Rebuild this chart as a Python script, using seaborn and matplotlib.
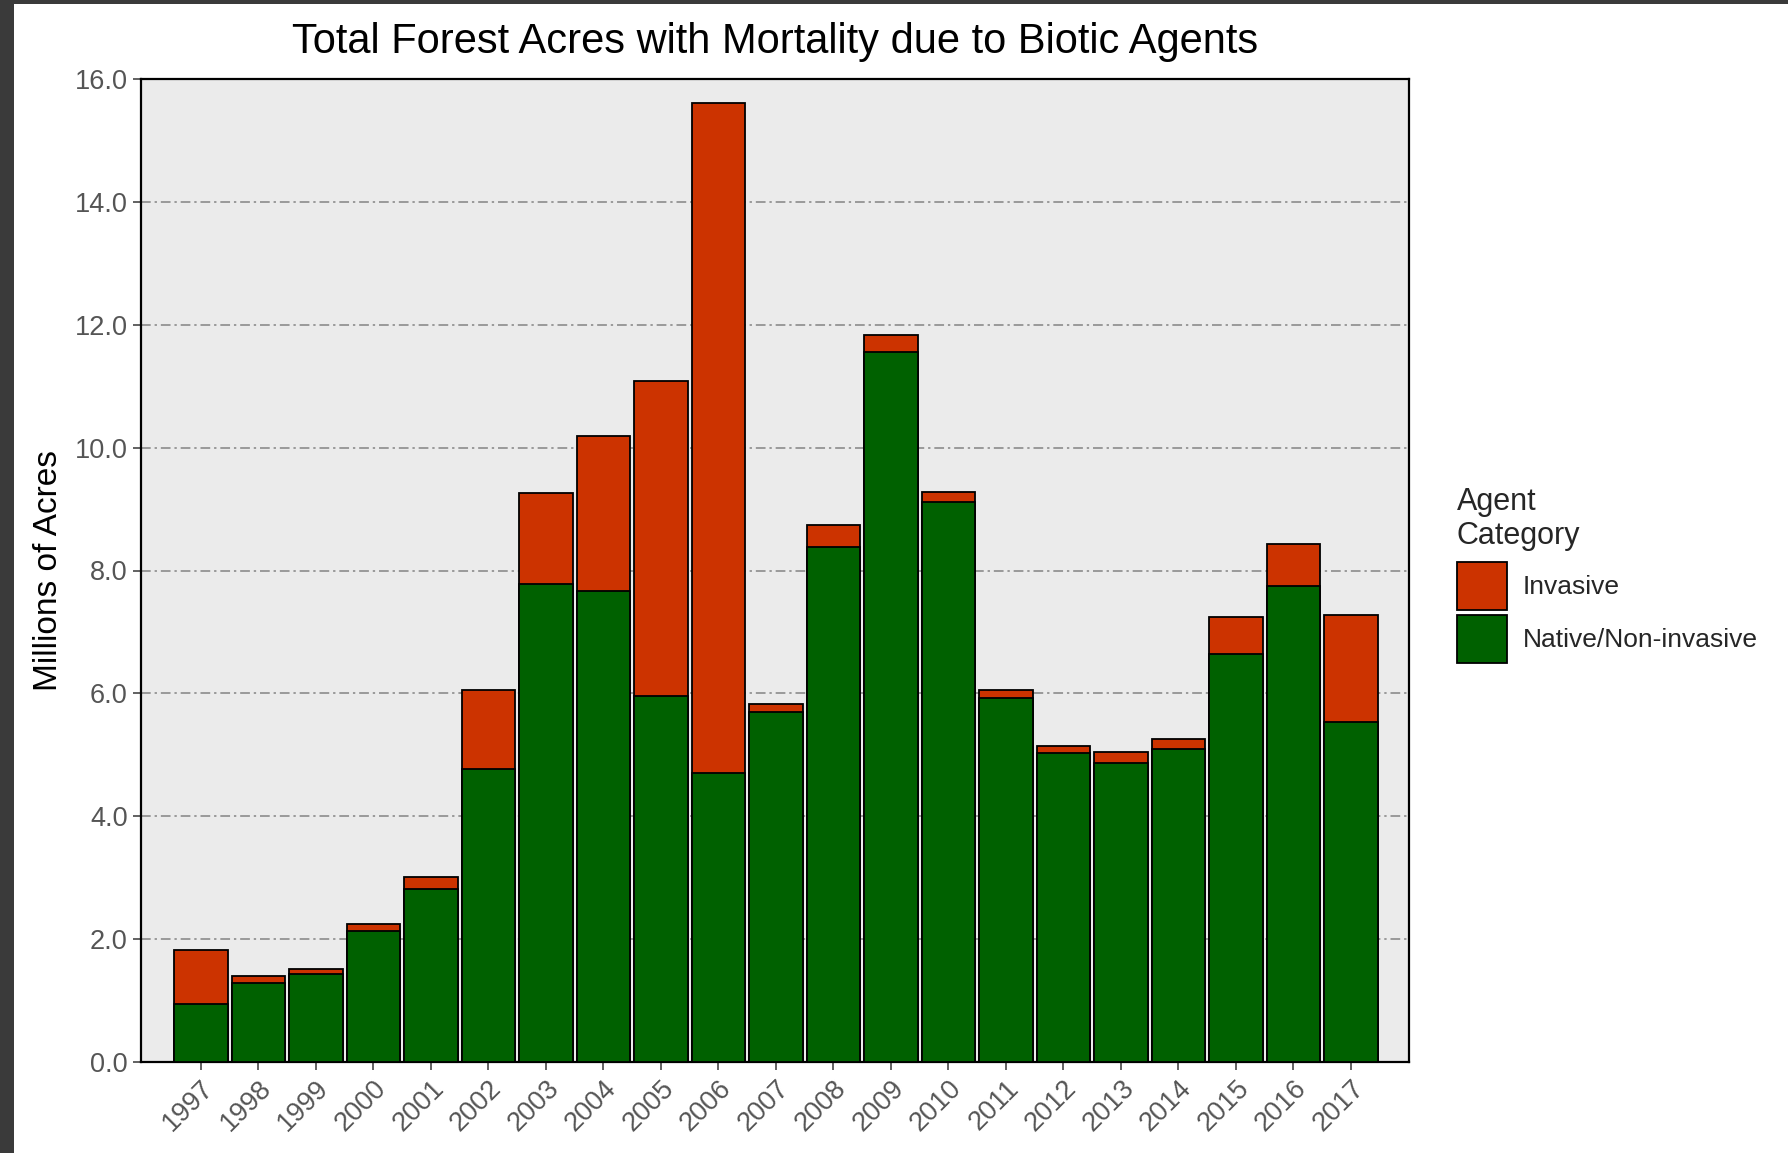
import matplotlib
matplotlib.use("Agg")
import matplotlib.pyplot as plt
from matplotlib.patches import Patch, Rectangle
import pandas as pd
import seaborn as sns

# data (millions of acres)
years = [str(y) for y in range(1997, 2018)]
native = [0.95, 1.28, 1.43, 2.13, 2.82, 4.77, 7.78, 7.67, 5.96, 4.70, 5.70,
          8.39, 11.56, 9.11, 5.92, 5.03, 4.86, 5.10, 6.64, 7.74, 5.53]
invasive = [0.87, 0.12, 0.09, 0.12, 0.19, 1.28, 1.48, 2.52, 5.12, 10.91, 0.13,
            0.35, 0.28, 0.17, 0.13, 0.11, 0.19, 0.15, 0.60, 0.69, 1.75]
y_ticks = [0, 2, 4, 6, 8, 10, 12, 14, 16]

col_inv = "#CC3300"
col_nat = "#006100"

df = pd.DataFrame({"Year": years, "Native": native, "Invasive": invasive})
df["Total"] = df["Native"] + df["Invasive"]

sns.set_style("white")
plt.rcParams["font.family"] = ["Liberation Sans", "DejaVu Sans"]

fig = plt.figure(figsize=(17.88, 11.53), dpi=100)
fig.patch.set_facecolor("#3a3a3a")
# white page area (screenshot has a dark frame on the left and top)
fig.patches.append(Rectangle((14 / 1788, 0), 1, 1 - 4 / 1153, transform=fig.transFigure,
                             facecolor="white", edgecolor="none", zorder=-10))

ax = fig.add_axes([141 / 1788, 1 - 1062 / 1153, (1409 - 141) / 1788, (1062 - 79) / 1153])
ax.set_facecolor("#EBEBEB")

# stacked: total (invasive on top) first, native drawn over it
sns.barplot(data=df, x="Year", y="Total", color=col_inv, saturation=1, width=0.93,
            edgecolor="black", linewidth=1.3, ax=ax, zorder=3)
sns.barplot(data=df, x="Year", y="Native", color=col_nat, saturation=1, width=0.93,
            edgecolor="black", linewidth=1.3, ax=ax, zorder=4)

ax.set_ylim(0, 16)
ax.set_xlim(-1.04, 21.01)
ax.set_yticks(y_ticks)
ax.set_yticklabels([f"{v:.1f}" for v in y_ticks])
for v in y_ticks[1:-1]:
    ax.axhline(v, color="#999999", lw=1.4, dashes=(5, 2, 1.2, 2), zorder=1)

ax.tick_params(axis="both", colors="#555555", labelsize=19.5, length=6, width=1.3,
               direction="out", bottom=True, left=True)
plt.setp(ax.get_xticklabels(), rotation=45, ha="right", rotation_mode="anchor")
for s in ax.spines.values():
    s.set_visible(True)
    s.set_color("black")
    s.set_linewidth(1.6)

ax.set_xlabel("")
ax.set_ylabel("Millions of Acres", fontsize=24, color="black", labelpad=8)
ax.set_title("Total Forest Acres with Mortality due to Biotic Agents", fontsize=30,
             color="black", pad=19)

handles = [Patch(facecolor=col_inv, edgecolor="black", linewidth=1.3, label="Invasive"),
           Patch(facecolor=col_nat, edgecolor="black", linewidth=1.3, label="Native/Non-invasive")]
leg = fig.legend(handles=handles, title="Agent\nCategory", loc="upper left",
                 bbox_to_anchor=(1446 / 1788, 1 - 476 / 1153), frameon=False,
                 fontsize=19, title_fontsize=22, handlelength=1.9, handleheight=2.4,
                 handletextpad=0.6, labelspacing=0.2, borderaxespad=0)
leg._legend_box.align = "left"
leg._legend_box.sep = 8

fig.savefig("out.png", dpi=100, facecolor=fig.get_facecolor())
